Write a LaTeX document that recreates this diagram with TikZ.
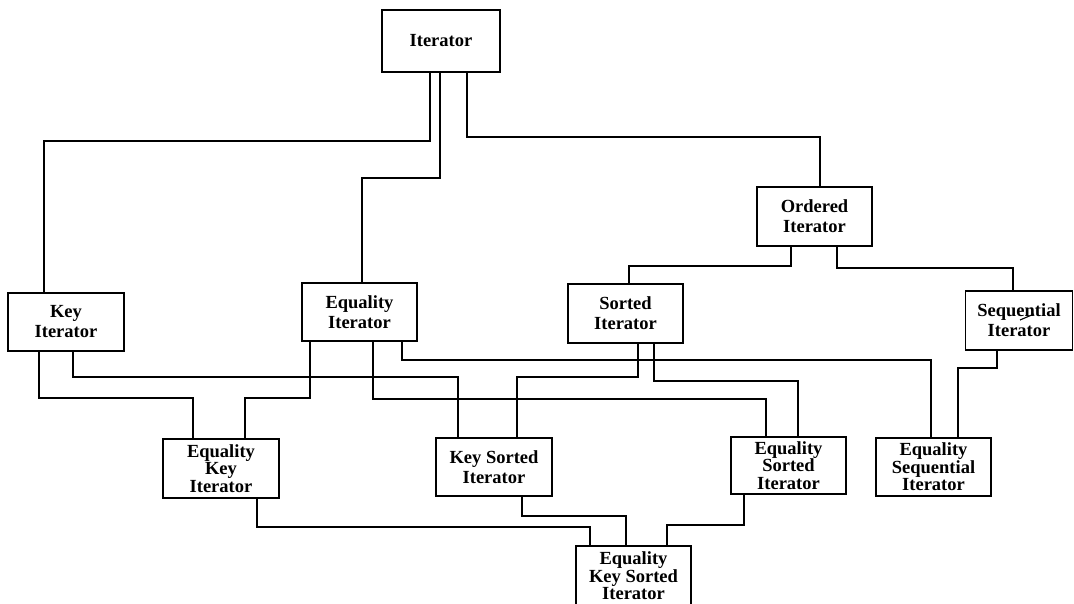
\documentclass[tikz,border=0pt]{standalone}
\usepackage{fontspec}
\setmainfont{Liberation Serif}
\usetikzlibrary{calc}
\begin{document}
\begin{tikzpicture}[x=1pt,y=-1pt,
  box/.style={draw, line width=1.3pt, inner sep=0pt, align=center,
    font=\bfseries\fontsize{18.5}{20}\selectfont},
  box3/.style={box, font=\bfseries\fontsize{18.5}{17.5}\selectfont},
  conn/.style={line width=1.3pt}]
\useasboundingbox (0,0) rectangle (1074,603);
\node[box, minimum width=118, minimum height=62] (it) at (441,41) {Iterator};
\node[box, minimum width=116, minimum height=58] (key) at (66,322) {Key\\Iterator};
\node[box, minimum width=115, minimum height=58] (eq) at (359.5,312) {Equality\\Iterator};
\node[box, minimum width=115, minimum height=59] (ord) at (814.5,216.5) {Ordered\\Iterator};
\node[box, minimum width=115, minimum height=59] (sort) at (625.5,313.5) {Sorted\\Iterator};
\node[box, minimum width=107, minimum height=59] (seq) at (1019,320.5) {Sequential\\Iterator};
\node[box3, minimum width=116, minimum height=59] (eki) at (221,468.5) {Equality\\Key\\Iterator};
\node[box, minimum width=116, minimum height=58] (ksi) at (494,467) {Key Sorted\\Iterator};
\node[box3, minimum width=115, minimum height=57] (esi) at (788.5,465.5) {Equality\\Sorted\\Iterator};
\node[box3, minimum width=115, minimum height=58] (eseq) at (933.5,467) {Equality\\Sequential\\Iterator};
\node[box3, minimum width=115, minimum height=60] (eksi) at (633.5,576) {Equality\\Key Sorted\\Iterator};
% stray stroke over "Sequential"
\draw[line width=1.1pt] (1020,320) -- (1034,314);
% connectors
\draw[conn] (it.south -| 430,0) |- (44,141) -- (key.north -| 44,0);
\draw[conn] (it.south -| 440,0) |- (362,178) -- (eq.north -| 362,0);
\draw[conn] (it.south -| 467,0) |- (820,137) -- (ord.north -| 820,0);
\draw[conn] (ord.south -| 791,0) |- (629,266) -- (sort.north -| 629,0);
\draw[conn] (ord.south -| 837,0) |- (1013,268) -- (seq.north -| 1013,0);
\draw[conn] (key.south -| 39,0) |- (193,398) -- (eki.north -| 193,0);
\draw[conn] (key.south -| 73,0) |- (458,377) -- (ksi.north -| 458,0);
\draw[conn] (eq.south -| 310,0) |- (245,398) -- (eki.north -| 245,0);
\draw[conn] (eq.south -| 373,0) |- (766,399) -- (esi.north -| 766,0);
\draw[conn] (eq.south -| 402,0) |- (931,360) -- (eseq.north -| 931,0);
\draw[conn] (sort.south -| 638,0) |- (517,377) -- (ksi.north -| 517,0);
\draw[conn] (sort.south -| 654,0) |- (798,381) -- (esi.north -| 798,0);
\draw[conn] (seq.south -| 997,0) |- (958,368) -- (eseq.north -| 958,0);
\draw[conn] (eki.south -| 257,0) |- (590,527) -- (eksi.north -| 590,0);
\draw[conn] (ksi.south -| 522,0) |- (626,516) -- (eksi.north -| 626,0);
\draw[conn] (esi.south -| 744,0) |- (667,525) -- (eksi.north -| 667,0);
\end{tikzpicture}
\end{document}
